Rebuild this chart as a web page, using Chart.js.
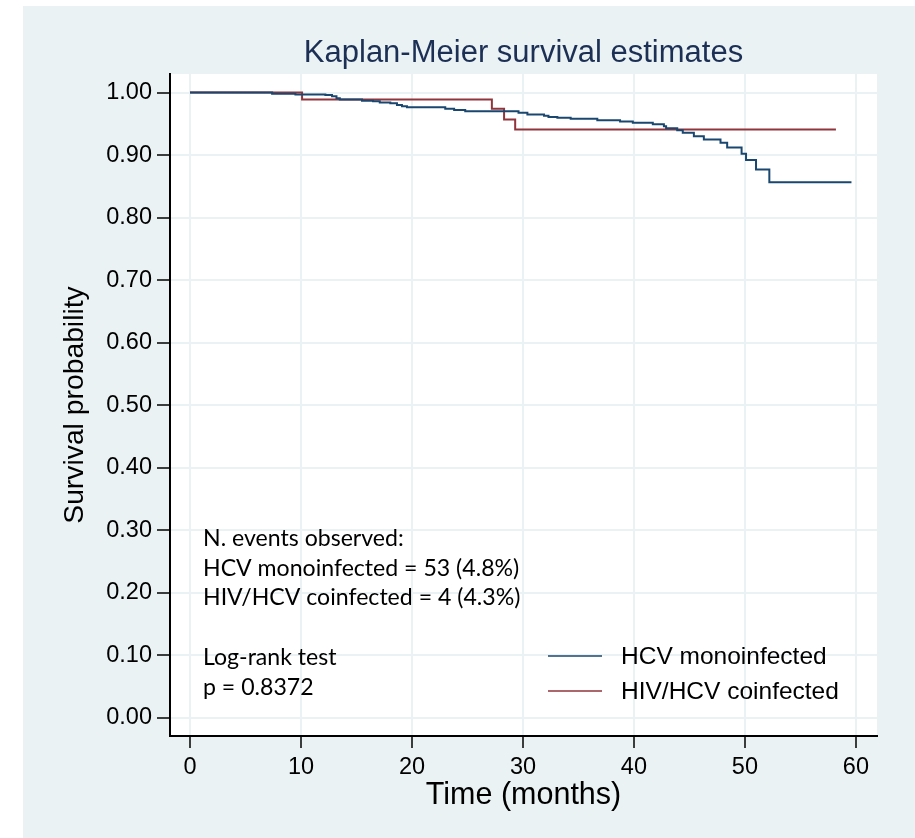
<!DOCTYPE html>
<html>
<head>
<meta charset="utf-8">
<title>Kaplan-Meier survival estimates</title>
<script src="https://cdn.jsdelivr.net/npm/chart.js@4"></script>
<style>
  html, body { margin: 0; padding: 0; background: #ffffff; }
  #wrap { width: 915px; height: 838px; }
</style>
</head>
<body>
<div id="wrap"><canvas id="kmChart" width="915" height="838"></canvas></div>
<script>
"use strict";

// survival curves (time in months, survival after the step)
const monoTime = [0, 7.4, 9.5, 12.2, 12.8, 13.2, 13.5, 15.5, 16.5, 17.1, 18.05, 18.65, 19.1, 19.55, 23.0, 23.8, 24.8, 29.6, 30.4, 31.9, 32.3, 33.1, 34.3, 36.7, 38.75, 39.9, 41.7, 42.7, 42.9, 43.9, 44.4, 45.4, 46.3, 47.8, 48.4, 49.7, 50.1, 51.0, 52.2, 59.6];
const monoSurv = [1.000, 0.998, 0.997, 0.996, 0.994, 0.991, 0.989, 0.987, 0.986, 0.984, 0.983, 0.980, 0.978, 0.9765, 0.974, 0.972, 0.970, 0.9675, 0.965, 0.963, 0.961, 0.9595, 0.958, 0.9557, 0.9536, 0.9515, 0.9493, 0.946, 0.943, 0.9397, 0.9355, 0.930, 0.925, 0.9195, 0.912, 0.902, 0.892, 0.877, 0.8565, 0.8565];

const coTime = [0, 10.1, 27.2, 28.3, 29.3, 58.2];
const coSurv = [1.000, 0.989, 0.974, 0.957, 0.941, 0.941];

const seriesNames = ["HCV monoinfected", "HIV/HCV coinfected"];
const xTicks = [0, 10, 20, 30, 40, 50, 60];
const yTicks = [0, 0.1, 0.2, 0.3, 0.4, 0.5, 0.6, 0.7, 0.8, 0.9, 1.0];

const noteLines = ["N. events observed:", "HCV monoinfected = 53 (4.8%)", "HIV/HCV coinfected = 4 (4.3%)", "", "Log-rank test", "p = 0.8372"];

const bgColor = "#eaf2f3";
const navy = "#1a476f";
const maroon = "#90353b";

const toPoints = (ts, ss) => ts.map((t, i) => ({ x: t, y: ss[i] }));

// page background + white plot region
const backdrop = {
  id: "backdrop",
  beforeDraw(chart) {
    const c = chart.ctx;
    const a = chart.chartArea;
    c.save();
    c.fillStyle = "#ffffff";
    c.fillRect(0, 0, chart.width, chart.height);
    c.fillStyle = bgColor;
    c.fillRect(23, 6, chart.width - 23, chart.height - 6);
    c.fillStyle = "#ffffff";
    c.fillRect(a.left, a.top, a.right - a.left, a.bottom - a.top);
    c.restore();
  }
};

// text box and legend inside the plot
const notes = {
  id: "notes",
  afterDraw(chart) {
    const c = chart.ctx;
    c.save();
    c.fillStyle = "#000000";
    c.textAlign = "left";
    c.textBaseline = "alphabetic";
    // size the note font so the widest line is as wide as in the original
    c.font = "20px Lato, 'Open Sans', sans-serif";
    const widest = Math.max(...noteLines.map(t => c.measureText(t).width));
    const size = Math.min(24, 20 * 317 / widest);
    c.font = size.toFixed(1) + "px Lato, 'Open Sans', sans-serif";
    const base = [546, 576, 605, 635, 665, 695];
    noteLines.forEach((txt, i) => {
      if (txt) c.fillText(txt, 203, base[i]);
    });

    const legY = [656, 691];
    chart.data.datasets.forEach((ds, i) => {
      c.strokeStyle = ds.borderColor;
      c.lineWidth = 1.5;
      c.beginPath();
      c.moveTo(548, legY[i]);
      c.lineTo(602, legY[i]);
      c.stroke();
      c.fillStyle = "#000000";
      c.font = "24.5px 'Liberation Sans', Arial, sans-serif";
      c.textBaseline = "middle";
      c.fillText(ds.label, 621, legY[i] + 1);
    });
    c.restore();
  }
};

new Chart(document.getElementById("kmChart"), {
  type: "scatter",
  data: {
    datasets: [{
      label: seriesNames[0],
      data: toPoints(monoTime, monoSurv),
      borderColor: navy,
      borderWidth: 2,
      showLine: true,
      stepped: true,
      pointRadius: 0
    }, {
      label: seriesNames[1],
      data: toPoints(coTime, coSurv),
      borderColor: maroon,
      borderWidth: 2,
      showLine: true,
      stepped: true,
      pointRadius: 0
    }]
  },
  options: {
    responsive: false,
    animation: false,
    layout: { padding: { top: 0, left: 0, right: 38, bottom: 0 } },
    plugins: {
      legend: { display: false },
      tooltip: { enabled: false },
      title: {
        display: true,
        text: "Kaplan-Meier survival estimates",
        color: "#1c2f55",
        fullSize: false,
        font: { family: "'Liberation Sans', Arial, sans-serif", size: 31, weight: "normal" },
        padding: { top: 35, bottom: 1.8 }
      }
    },
    scales: {
      x: {
        type: "linear",
        min: -1.8,
        max: 61.9,
        afterBuildTicks: axis => { axis.ticks = xTicks.map(v => ({ value: v })); },
        afterFit: scale => { scale.height = 102; },
        grid: { color: bgColor, lineWidth: 2, tickColor: "#000000", tickLength: 12, tickWidth: 1.5 },
        border: { display: true, color: "#000000", width: 2 },
        ticks: {
          autoSkip: false, maxRotation: 0, padding: 5, color: "#000000",
          font: { family: "'Liberation Sans', Arial, sans-serif", size: 23.5 },
          callback: v => String(v)
        },
        title: {
          display: true, text: "Time (months)", color: "#000000",
          font: { family: "'Liberation Sans', Arial, sans-serif", size: 30.5 },
          padding: { top: 0, bottom: 24 }
        }
      },
      y: {
        type: "linear",
        min: -0.0288,
        max: 1.0296,
        afterBuildTicks: axis => { axis.ticks = yTicks.map(v => ({ value: v })); },
        afterFit: scale => { scale.width = 170; },
        grid: { color: bgColor, lineWidth: 2, tickColor: "#000000", tickLength: 13, tickWidth: 1.5 },
        border: { display: true, color: "#000000", width: 2 },
        ticks: {
          autoSkip: false, padding: 5, color: "#000000",
          font: { family: "'Liberation Sans', Arial, sans-serif", size: 23.5 },
          callback: v => v.toFixed(2)
        },
        title: {
          display: true, text: "Survival probability", color: "#000000",
          font: { family: "'Liberation Sans', Arial, sans-serif", size: 28.3 },
          padding: { top: 58, bottom: 0 }
        }
      }
    }
  },
  plugins: [backdrop, notes]
});
</script>
</body>
</html>
